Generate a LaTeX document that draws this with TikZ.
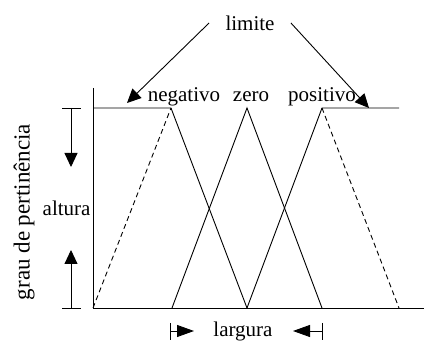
\documentclass[tikz,border=0pt]{standalone}
\usepackage{fontspec}
\setmainfont{Liberation Serif}
\usetikzlibrary{arrows.meta,positioning}

\begin{document}
\begin{tikzpicture}[x=1pt,y=-1pt,line width=0.9pt,
  every node/.style={font=\fontsize{21}{24}\selectfont,inner sep=1pt},
  bigarrow/.style={-{Triangle[length=14pt,width=13pt]}},
  longarrow/.style={-{Triangle[length=17pt,width=12pt]}},
  dashline/.style={dash pattern=on 5pt off 3.5pt}]
  \useasboundingbox (0,0) rectangle (424,342);

  % eixos
  \coordinate (o) at (93,308);
  \coordinate (top) at (93,88);
  \coordinate (xend) at (424,308);
  \draw (top) -- (o) -- (xend);

  % pontos das funcoes
  \coordinate (a) at (172,308);
  \coordinate (b) at (247,308);
  \coordinate (c) at (322,308);
  \coordinate (d) at (399,308);
  \coordinate (na) at (93,108);
  \coordinate (np) at (171,108);
  \coordinate (zp) at (247,108);
  \coordinate (pp) at (322,108);
  \coordinate (pe) at (399,108);

  \draw (na) -- (np) -- (b);
  \draw (a) -- (zp) -- (c);
  \draw (b) -- (pp) -- (pe);
  \draw[dashline] (o) -- (np);
  \draw[dashline] (pp) -- (d);

  % rotulos
  \node (neg) at (184,97) {negativo};
  \node (zer) at (251,97) {zero};
  \node (pos) at (322,97) {positivo};
  \node[inner xsep=16pt] (lim) at (250,23) {limite};
  \coordinate (la) at (127,103);
  \coordinate (ra) at (369,108);
  \draw[bigarrow] (lim.west) -- (la);
  \draw[bigarrow] (lim.east) -- (ra);

  % altura
  \coordinate (ht) at (71,108);
  \coordinate (hb) at (71,308);
  \draw (62,108) -- (81,108);
  \draw (62,308) -- (81,308);
  \node[anchor=east] (alt) at (92,208) {altura};
  \draw[bigarrow] (ht) -- (71,167);
  \draw[bigarrow] (hb) -- (71,250);

  \node[rotate=90,font=\fontsize{23}{26}\selectfont] (gp) at (24,212) {grau de pertinência};

  % largura
  \node (lar) at (243,331) {largura};
  \draw (170,323) -- (170,340);
  \draw (322,323) -- (322,340);
  \draw[longarrow] (170,331) -- (194,331);
  \draw[longarrow] (322,331) -- (293,331);
\end{tikzpicture}
\end{document}
